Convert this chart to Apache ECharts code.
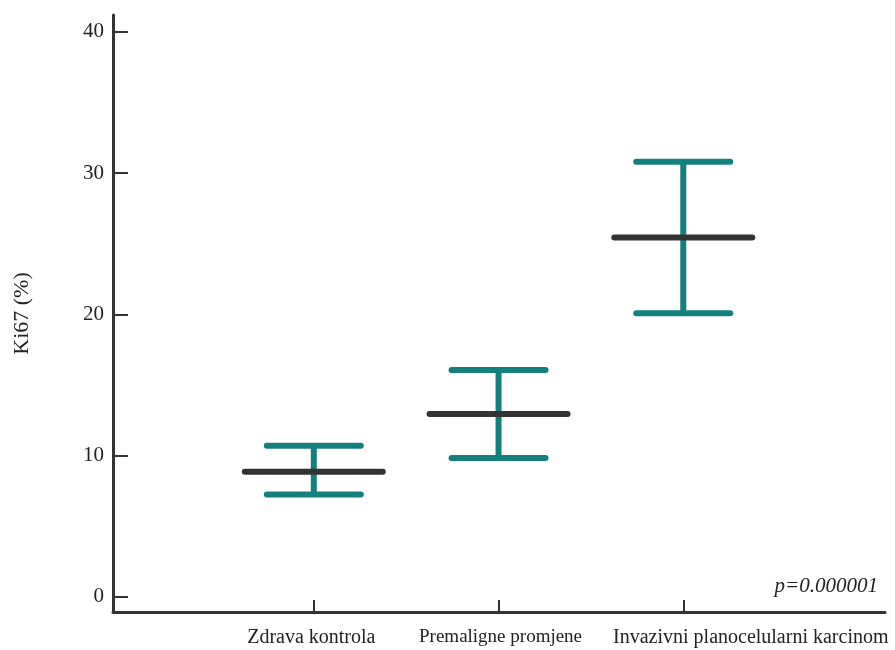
<!DOCTYPE html>
<html><head><meta charset="utf-8">
<script src="https://cdn.jsdelivr.net/npm/echarts@6/dist/echarts.min.js"></script>
<style>html,body{margin:0;padding:0;background:#fff}#c{width:895px;height:650px}</style>
</head><body><div id="c"></div>
<script>
const categories = ['Zdrava kontrola', 'Premaligne promjene', 'Invazivni planocelularni karcinom'];
const positions = [1, 2, 3];
const means = [8.85, 12.94, 25.45];
const lowers = [7.25, 9.82, 20.08];
const uppers = [10.69, 16.05, 30.81];
const yTicks = [0, 10, 20, 30, 40];
const pValue = 'p=0.000001';

const FONT = "'Liberation Serif', 'Times New Roman', serif";
const TEAL = '#14807d';
const DARK = '#333333';

const data = positions.map((p, i) => [p, means[i], lowers[i], uppers[i]]);
const labelStyles = ['a', 'b', 'c'];

const chart = echarts.init(document.getElementById('c'), null, {renderer: 'canvas'});
chart.setOption({
  backgroundColor: '#fff',
  animation: false,
  grid: {left: 113, right: 10, top: 15, bottom: 38},
  xAxis: {
    type: 'value', min: -0.087, max: 4.092,
    axisLine: {onZero: false, lineStyle: {color: DARK, width: 3}},
    axisTick: {show: true, inside: true, length: 12, lineStyle: {color: DARK, width: 2}, customValues: positions},
    splitLine: {show: false},
    axisLabel: {
      customValues: positions, margin: 16,
      formatter: function (v) {
        const i = positions.indexOf(v);
        return i < 0 ? '' : '{' + labelStyles[i] + '|' + categories[i] + '}';
      },
      rich: {
        a: {fontFamily: FONT, fontSize: 20, color: '#222', padding: [0, 5, 0, 0]},
        b: {fontFamily: FONT, fontSize: 19, color: '#222', padding: [0, 0, 0, 4]},
        c: {fontFamily: FONT, fontSize: 20, color: '#222', padding: [0, 0, 0, 135]}
      }
    }
  },
  yAxis: {
    type: 'value', min: -1.08, max: 41.2,
    name: 'Ki67 (%)', nameLocation: 'middle', nameGap: 80,
    nameTextStyle: {fontFamily: FONT, fontSize: 22, color: '#222'},
    axisLine: {show: true, onZero: false, lineStyle: {color: DARK, width: 3}},
    axisTick: {show: true, inside: true, length: 15, lineStyle: {color: DARK, width: 2}, customValues: yTicks},
    splitLine: {show: false},
    axisLabel: {customValues: yTicks, margin: 9, fontFamily: FONT, fontSize: 21, color: '#222'}
  },
  series: [{
    type: 'custom',
    data: data,
    encode: {x: 0, y: [1, 2, 3]},
    renderItem: function (params, api) {
      const x = api.value(0);
      const m = api.coord([x, api.value(1)]);
      const lo = api.coord([x, api.value(2)]);
      const hi = api.coord([x, api.value(3)]);
      const capHalf = 47;
      const meanHalf = 69;
      const teal = {stroke: TEAL, lineWidth: 6, lineCap: 'round'};
      return {
        type: 'group',
        children: [
          {type: 'line', shape: {x1: hi[0], y1: hi[1], x2: lo[0], y2: lo[1]}, style: {stroke: TEAL, lineWidth: 6, lineCap: 'butt'}},
          {type: 'line', shape: {x1: hi[0] - capHalf, y1: hi[1], x2: hi[0] + capHalf, y2: hi[1]}, style: teal},
          {type: 'line', shape: {x1: lo[0] - capHalf, y1: lo[1], x2: lo[0] + capHalf, y2: lo[1]}, style: teal},
          {type: 'line', shape: {x1: m[0] - meanHalf, y1: m[1], x2: m[0] + meanHalf, y2: m[1]}, style: {stroke: DARK, lineWidth: 6, lineCap: 'round'}}
        ]
      };
    }
  }],
  graphic: [{
    type: 'text', right: 17, top: 576,
    style: {text: pValue, fontFamily: FONT, fontStyle: 'italic', fontSize: 21, fill: '#222'}
  }]
});
</script>
</body></html>
